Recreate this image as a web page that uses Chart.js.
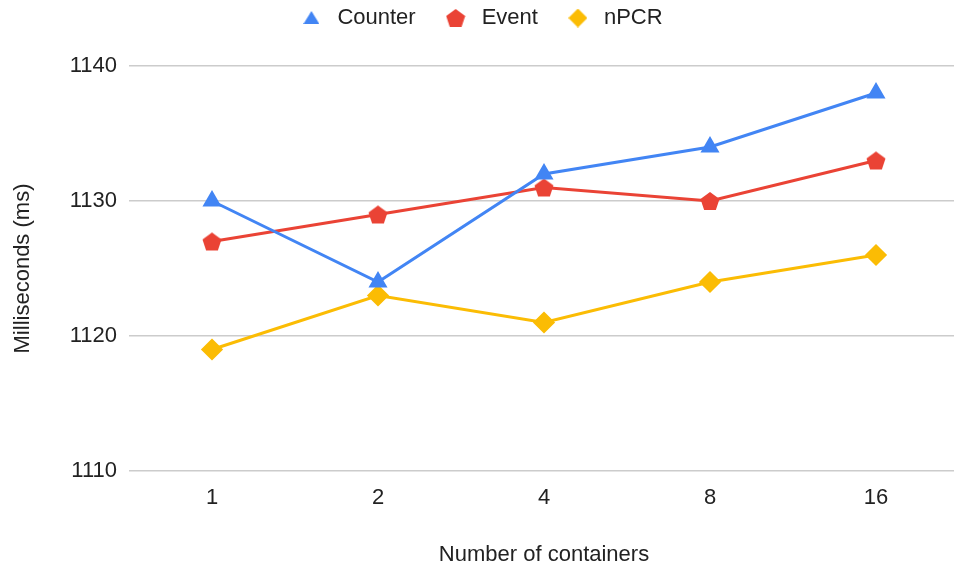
<!DOCTYPE html>
<html lang="en">
<head>
  <meta charset="UTF-8">
  <title>Milliseconds by containers</title>
  <script src="https://cdn.jsdelivr.net/npm/chart.js@4.4.1/dist/chart.umd.min.js"></script>
  <style>
    html, body { margin: 0; padding: 0; background: #fff; }
  </style>
</head>
<body>
<canvas id="myChart" width="954" height="571"></canvas>

<script>
// data
const containers = ['1', '2', '4', '8', '16'];
const counter = [1130, 1124, 1132, 1134, 1138];
const event = [1127, 1129, 1131, 1130, 1133];
const npcr = [1119, 1123, 1121, 1124, 1126];
const yTicks = [1110, 1120, 1130, 1140];

const BLUE = '#4285F4';
const RED = '#EA4335';
const YELLOW = '#FBBC04';

// small canvases used as marker images
function marker(kind, size, color) {
  const c = document.createElement('canvas');
  c.width = size; c.height = size;
  const g = c.getContext('2d');
  const r = size / 2;
  g.fillStyle = color;
  g.beginPath();
  if (kind === 'pentagon') {
    for (let i = 0; i < 5; i++) {
      const a = -Math.PI / 2 + i * 2 * Math.PI / 5;
      const x = r + r * Math.cos(a);
      const y = r + 1 + r * Math.sin(a);
      if (i === 0) g.moveTo(x, y); else g.lineTo(x, y);
    }
  } else if (kind === 'triangle') {
    g.moveTo(r, 1);
    g.lineTo(size, size - 2);
    g.lineTo(0, size - 2);
  } else {
    g.moveTo(r, 0);
    g.lineTo(size, r);
    g.lineTo(r, size);
    g.lineTo(0, r);
  }
  g.closePath();
  g.fill();
  return c;
}
const pent = marker('pentagon', 20, RED);
const legendMarks = [
  marker('triangle', 16, BLUE),
  marker('pentagon', 20, RED),
  marker('diamond', 19, YELLOW)
];

Chart.defaults.font.family = 'Arial, "Liberation Sans", sans-serif';
Chart.defaults.font.size = 22;
Chart.defaults.color = '#222';

const PLOT_RIGHT = 959;

// legend sits near the top, plot starts lower down;
// plot area runs out to the right edge of the canvas
const layoutTweak = {
  id: 'layoutTweak',
  afterInit(chart) {
    const lg = chart.legend;
    const fit = lg.fit;
    lg.fit = function () {
      fit.call(this);
      this.height = 84;
    };
  },
  afterLayout(chart) {
    const area = chart.chartArea;
    area.right = PLOT_RIGHT;
    area.width = area.right - area.left;
    const x = chart.scales.x;
    x.right = PLOT_RIGHT;
    x.width = x.right - x.left;
    x.configure();
    x._labelItems = null;
    x._gridLineItems = null;
    const y = chart.scales.y;
    y._gridLineItems = null;
  }
};

const ctx = document.getElementById('myChart').getContext('2d');

const myChart = new Chart(ctx, {
  type: 'line',
  data: {
    labels: containers,
    datasets: [{
      label: 'Counter',
      data: counter,
      borderColor: BLUE,
      backgroundColor: BLUE,
      borderWidth: 3,
      pointStyle: 'triangle',
      pointRadius: 8,
      pointHoverRadius: 8
    }, {
      label: 'Event',
      data: event,
      borderColor: RED,
      backgroundColor: RED,
      borderWidth: 3,
      pointStyle: pent,
      pointRadius: 10
    }, {
      label: 'nPCR',
      data: npcr,
      borderColor: YELLOW,
      backgroundColor: YELLOW,
      borderWidth: 3,
      pointStyle: 'rectRot',
      pointRadius: 9,
      pointHoverRadius: 9
    }]
  },
  plugins: [layoutTweak],
  options: {
    responsive: false,
    animation: false,
    layout: { padding: { top: -18, right: -5, left: 0, bottom: 0 } },
    plugins: {
      legend: {
        position: 'top',
        labels: {
          usePointStyle: true,
          pointStyleWidth: 30,
          boxHeight: 10,
          padding: 25,
          font: { size: 22 },
          color: '#222',
          generateLabels: chart => {
            const items = Chart.defaults.plugins.legend.labels.generateLabels(chart);
            items.forEach((it, i) => { it.pointStyle = legendMarks[i]; });
            return items;
          }
        }
      },
      tooltip: { enabled: false }
    },
    scales: {
      x: {
        offset: true,
        grid: { display: false },
        border: { display: false },
        ticks: { padding: 6 },
        afterFit: axis => { axis.height = 100; },
        title: {
          display: true,
          text: 'Number of containers',
          padding: { top: 0, bottom: 3 }
        }
      },
      y: {
        min: yTicks[0],
        max: yTicks[yTicks.length - 1],
        afterBuildTicks: axis => { axis.ticks = yTicks.map(v => ({ value: v })); },
        afterFit: axis => { axis.width = 129; },
        grid: { color: '#cccccc', lineWidth: 1.5, drawTicks: false },
        border: { display: false },
        ticks: { padding: 12, callback: v => String(v) },
        title: {
          display: true,
          text: 'Milliseconds (ms)',
          padding: { top: 10, bottom: 0 }
        }
      }
    }
  }
});
</script>

</body>
</html>
